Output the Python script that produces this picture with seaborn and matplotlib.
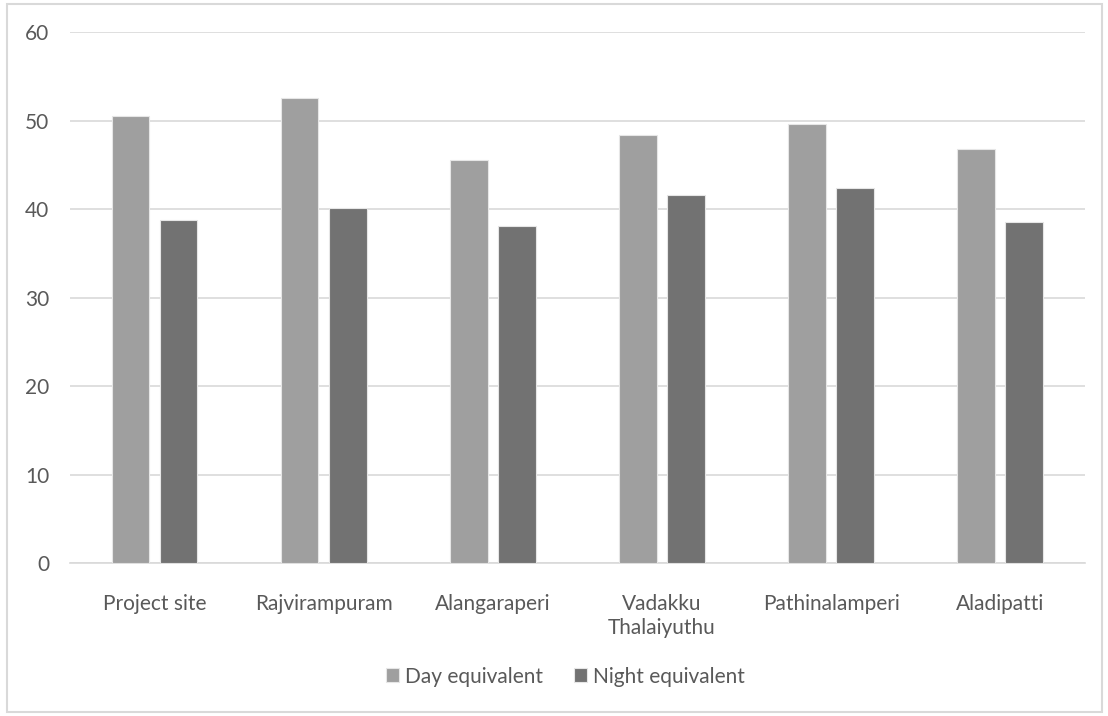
import matplotlib
matplotlib.use("Agg")
import matplotlib.pyplot as plt
import seaborn as sns
import pandas as pd
from matplotlib.patches import Rectangle

categories = ["Project site", "Rajvirampuram", "Alangaraperi", "Vadakku\nThalaiyuthu", "Pathinalamperi", "Aladipatti"]
day_values = [50.5, 52.6, 45.6, 48.4, 49.6, 46.8]
night_values = [38.8, 40.1, 38.1, 41.6, 42.4, 38.5]
series_names = ["Day equivalent", "Night equivalent"]
yticks = [0, 10, 20, 30, 40, 50, 60]

df = pd.DataFrame({
    "category": categories * 2,
    "value": day_values + night_values,
    "series": [series_names[0]] * len(categories) + [series_names[1]] * len(categories),
})

sns.set_theme(style="white")
plt.rcParams['font.family'] = ['Lato', 'DejaVu Sans']

fig = plt.figure(figsize=(11.08, 7.16), dpi=100)
ax = fig.add_axes([0.0632, 0.2137, 0.9158, 0.7413])

sns.barplot(data=df, x="category", y="value", hue="series", order=categories,
            hue_order=series_names, palette=["#9f9f9f", "#727272"],
            width=0.57, gap=0.22, ax=ax, saturation=1, legend=True,
            edgecolor="#e6e6e6", linewidth=0.8, zorder=3)

ax.set_ylim(0, 60)
ax.set_yticks(yticks)
ax.set_xlim(-0.5, len(categories) - 0.5)
ax.yaxis.grid(True, color="#d9d9d9", linewidth=1.2, zorder=0)
ax.set_axisbelow(True)
for s in ["top", "right", "left"]:
    ax.spines[s].set_visible(False)
ax.spines["bottom"].set_color("#d9d9d9")
ax.spines["bottom"].set_linewidth(1.2)
ax.set_xlabel("")
ax.set_ylabel("")
ax.tick_params(axis="both", length=0, labelsize=15, colors="#595959")
ax.tick_params(axis="y", pad=15)
ax.tick_params(axis="x", pad=22)
for lbl in ax.get_xticklabels():
    lbl.set_linespacing(1.25)

handles, labels = ax.get_legend_handles_labels()
ax.legend_.remove()
fig.legend(handles, labels, loc="center", bbox_to_anchor=(0.51, 0.055), ncol=2,
           frameon=False, fontsize=15, handlelength=0.65, handleheight=0.65,
           handletextpad=0.25, columnspacing=1.5, labelcolor="#595959")

fig.patches.append(Rectangle((0.006, 0.005), 0.989, 0.99, transform=fig.transFigure,
                             fill=False, edgecolor="#d9d9d9", linewidth=1.5))

fig.savefig("out.png", dpi=100)
